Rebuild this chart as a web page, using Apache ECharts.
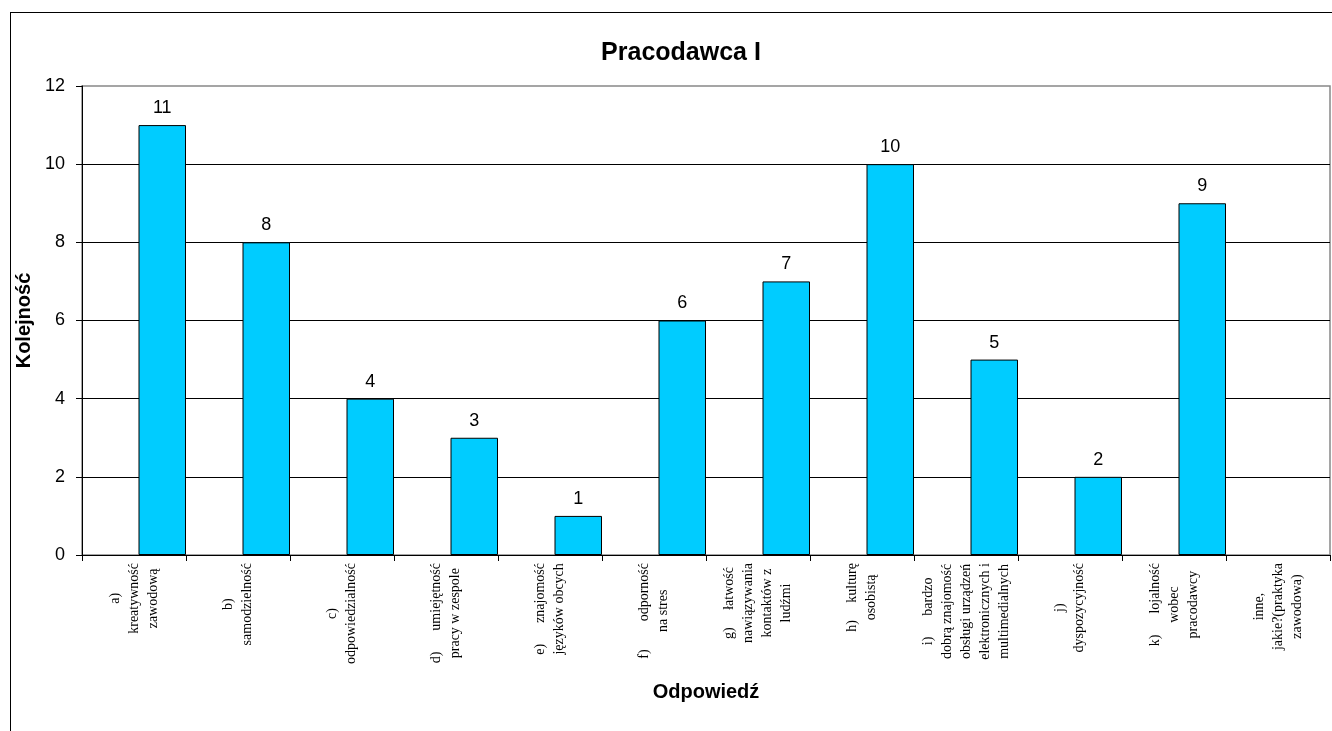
<!DOCTYPE html>
<html>
<head>
<meta charset="utf-8">
<script src="https://cdn.jsdelivr.net/npm/echarts@6/dist/echarts.min.js"></script>
<style>
  html, body { margin: 0; padding: 0; background: #fff; }
  #main { width: 1332px; height: 731px; position: relative; }
  #frame { position: absolute; left: 10px; top: 12px; width: 1340px; height: 740px; border: 1.5px solid #000; box-sizing: border-box; pointer-events: none; }
</style>
</head>
<body>
<div id="main"></div>
<div id="frame"></div>
<script>
// etykiety kategorii (odpowiedzi)
const categories = [
  'a)\nkreatywność\nzawodową',
  'b)\nsamodzielność',
  'c)\nodpowiedzialność',
  'd)      umiejętność\npracy w zespole',
  'e)      znajomość\njęzyków obcych',
  'f)        odporność\nna stres',
  'g)     łatwość\nnawiązywania\nkontaktów z\nludźmi',
  'h)     kulturę\nosobistą',
  'i)      bardzo\ndobrą znajomość\nobsługi urządzeń\nelektronicznych i\nmultimedialnych',
  'j)\ndyspozycyjność',
  'k)      lojalność\nwobec\npracodawcy',
  'inne,\njakie?(praktyka\nzawodowa)'
];
const values = [11, 8, 4, 3, 1, 6, 7, 10, 5, 2, 9, null];
// pusta seria - w oryginale slupki sa przesuniete w prawo
const emptySeries = [null, null, null, null, null, null, null, null, null, null, null, null];
const yTicks = [0, 12, 2];

const chart = echarts.init(document.getElementById('main'));

function wrapLabel(v) {
  return v.split('\n').map(function (line) { return '{c|' + line + '}'; }).join('\n');
}

chart.setOption({
  backgroundColor: '#fff',
  animation: false,
  title: {
    text: 'Pracodawca I',
    left: 676,
    top: 36,
    textAlign: 'center',
    textStyle: { fontFamily: 'Arial, Liberation Sans', fontWeight: 'bold', fontSize: 25, color: '#000' }
  },
  grid: {
    left: 82,
    top: 86,
    right: 2,
    bottom: 176,
    show: true,
    borderColor: '#888',
    borderWidth: 1.5
  },
  xAxis: {
    type: 'category',
    data: categories,
    name: 'Odpowiedź',
    nameLocation: 'middle',
    nameGap: 127,
    nameTextStyle: { fontFamily: 'Arial, Liberation Sans', fontWeight: 'bold', fontSize: 20, color: '#000' },
    axisLine: { lineStyle: { color: '#000', width: 1 } },
    axisTick: { show: true, length: 6, inside: false, lineStyle: { color: '#000' } },
    axisLabel: {
      interval: 0,
      rotate: 90,
      margin: 8,
      color: '#000',
      fontFamily: 'Liberation Serif, Times New Roman, serif',
      fontSize: 14,
      lineHeight: 19,
      formatter: wrapLabel,
      rich: {
        c: { align: 'center', fontFamily: 'Liberation Serif, Times New Roman, serif', fontSize: 14, lineHeight: 19, color: '#000' }
      }
    },
    splitLine: { show: false }
  },
  yAxis: {
    type: 'value',
    min: yTicks[0],
    max: yTicks[1],
    interval: yTicks[2],
    name: 'Kolejność',
    nameLocation: 'middle',
    nameGap: 42,
    nameTextStyle: { fontFamily: 'Arial, Liberation Sans', fontWeight: 'bold', fontSize: 20, color: '#000' },
    axisLine: { show: true, lineStyle: { color: '#000', width: 1 } },
    axisTick: { show: true, length: 6, lineStyle: { color: '#000' } },
    axisLabel: { margin: 17, color: '#000', fontFamily: 'Arial, Liberation Sans', fontSize: 18 },
    splitLine: { show: true, showMaxLine: false, lineStyle: { color: '#000', width: 1 } }
  },
  series: [
    {
      type: 'bar',
      data: emptySeries,
      barWidth: 47.5,
      barGap: '19%'
    },
    {
      type: 'bar',
      data: values,
      barWidth: 47.5,
      barGap: '19%',
      itemStyle: { color: '#00CCFF', borderColor: '#000', borderWidth: 1 },
      label: {
        show: true,
        position: 'top',
        distance: 8,
        color: '#000',
        fontFamily: 'Arial, Liberation Sans',
        fontSize: 18
      }
    }
  ]
});
</script>
</body>
</html>
